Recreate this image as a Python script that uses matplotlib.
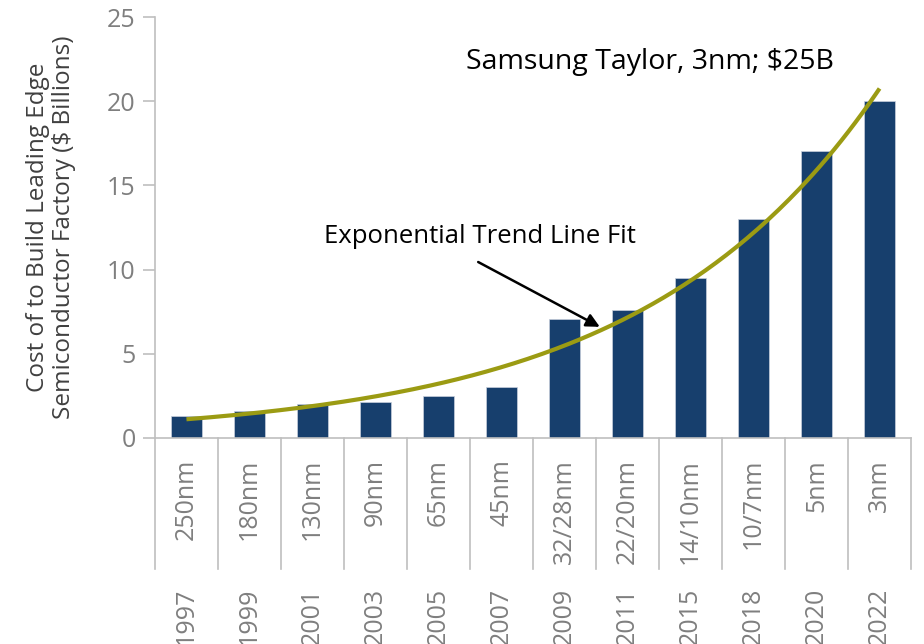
import matplotlib.pyplot as plt
import matplotlib.transforms as mtransforms
import numpy as np

plt.rcParams['font.family'] = ['Open Sans', 'DejaVu Sans']

# data
nodes = ['250nm', '180nm', '130nm', '90nm', '65nm', '45nm',
         '32/28nm', '22/20nm', '14/10nm', '10/7nm', '5nm', '3nm']
years = ['1997', '1999', '2001', '2003', '2005', '2007',
         '2009', '2011', '2015', '2018', '2020', '2022']
cost = [1.3, 1.6, 2.0, 2.15, 2.5, 3.0, 7.05, 7.6, 9.5, 13.0, 17.05, 20.0]

bar_color = '#173f6d'
trend_color = '#9b9b13'
axis_gray = '#bfbfbf'
text_gray = '#7f7f7f'

fig = plt.figure(figsize=(9.24, 6.44), dpi=100)
ax = fig.add_axes([0.1677, 0.3199, 0.8183, 0.6537])

x = np.arange(len(cost))
ax.bar(x, cost, width=0.49, color=bar_color, edgecolor='#c8d0dc', linewidth=0.5, zorder=2)

# exponential trend line fitted on the bars
b, a = np.polyfit(x, np.log(cost), 1)
xs = np.linspace(0, len(cost) - 1, 200)
ax.plot(xs, np.exp(a) * np.exp(b * xs), color=trend_color, lw=3, zorder=3, solid_capstyle='butt')

ax.set_xlim(-0.5, len(cost) - 0.5)
ax.set_ylim(0, 25)
ax.set_yticks([0, 5, 10, 15, 20, 25])
ax.set_xticks([])
ax.tick_params(axis='y', direction='out', length=9, width=1.2, color=axis_gray,
               labelcolor=text_gray, labelsize=18, pad=5)
for s in ['top', 'right']:
    ax.spines[s].set_visible(False)
for s in ['left', 'bottom']:
    ax.spines[s].set_color(axis_gray)
    ax.spines[s].set_linewidth(1.2)

ax.set_ylabel('Cost of to Build Leading Edge\nSemiconductor Factory ($ Billions)',
              fontsize=17.5, color='#404040', linespacing=1.1, va='center')
ax.yaxis.set_label_coords(-0.137, 0.5)

# two-level category axis
trans = mtransforms.blended_transform_factory(ax.transData, ax.transAxes)
for edge in np.arange(-0.5, len(cost), 1.0):
    ax.plot([edge, edge], [0, -0.311], transform=trans, color=axis_gray, lw=1.2, clip_on=False)
for i in range(len(cost)):
    ax.text(i, -0.05, nodes[i], transform=trans, rotation=90, ha='center', va='top',
            fontsize=18, color=text_gray)
    ax.text(i, -0.355, years[i], transform=trans, rotation=90, ha='center', va='top',
            fontsize=18, color=text_gray)

ax.text(4.44, 22.3, 'Samsung Taylor, 3nm; $25B', fontsize=20.5, color='black', va='center')
ax.text(4.65, 11.94, 'Exponential Trend Line Fit', fontsize=18.5, color='black',
        ha='center', va='center')
ax.annotate('', xy=(6.56, 6.6), xytext=(4.63, 10.45),
            arrowprops=dict(arrowstyle='-|>', color='black', lw=1.8, mutation_scale=20,
                            shrinkA=0, shrinkB=0))

fig.savefig('out.png', dpi=100)
